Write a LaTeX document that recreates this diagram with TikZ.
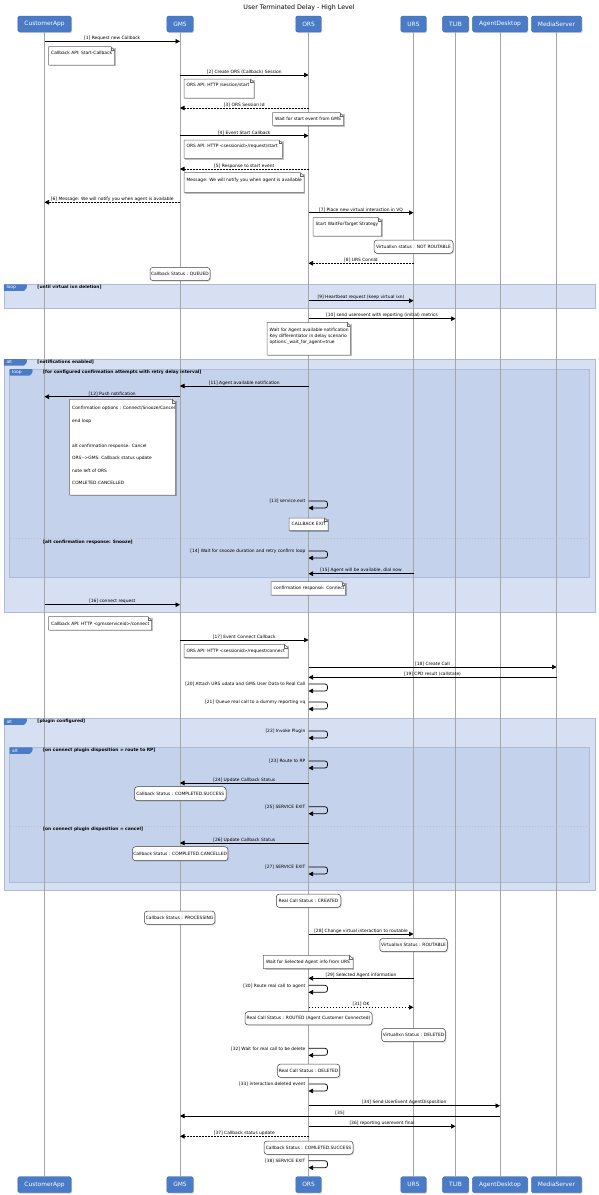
\documentclass[tikz,border=0pt]{standalone}
\usepackage{fontspec}
\setmainfont{DejaVu Sans}
\usetikzlibrary{arrows.meta,shadows}
\definecolor{partblue}{HTML}{4A7BC6}
\definecolor{partline}{HTML}{3C64A5}
\definecolor{outerfill}{HTML}{D7E0F2}
\definecolor{innerfill}{HTML}{C4D2EC}
\definecolor{frameline}{HTML}{AEBBD8}
\definecolor{lifegray}{HTML}{A6A6A6}
\newcommand\smallfont{\fontsize{4.4}{6.25}\selectfont}
\tikzset{
 part/.style={draw=partline, fill=partblue, text=white, rounded corners=1.5pt, minimum height=16pt, inner xsep=6.5pt, inner ysep=0pt, font=\fontsize{5.9}{7}\selectfont, drop shadow={shadow xshift=1pt, shadow yshift=-1pt, opacity=0.35}},
 lifeline/.style={draw=lifegray, line width=0.8pt},
 msgsolid/.style={line width=0.7pt, -{Triangle[length=4.5pt,width=4.5pt]}},
 msgdash/.style={msgsolid, dash pattern=on 1.8pt off 1.2pt},
 msglabel/.style={font=\smallfont, anchor=south, inner sep=0.6pt},
 selflabel/.style={font=\smallfont, anchor=east, inner sep=0pt},
 notebox/.style={draw=black!60, fill=white, line width=0.5pt},
 notetext/.style={font=\smallfont, anchor=north west, inner sep=0pt, align=left},
 shadowc/.style={fill=black, opacity=0.25},
 rbox/.style={draw=black!75, fill=white, rounded corners=3pt, line width=0.5pt, font=\smallfont, inner sep=0pt, drop shadow={shadow xshift=1pt, shadow yshift=-1pt, opacity=0.3}},
 grplabel/.style={font=\smallfont\bfseries, anchor=west, inner sep=0pt},
 tagtext/.style={font=\smallfont, text=white, anchor=west, inner sep=0pt},
 divline/.style={draw=black!25, dash pattern=on 1.5pt off 1.5pt, line width=0.5pt},
}
% name, x from, x to, y, style, label
\newcommand\seqmsg[6]{%
  \coordinate (#1a) at (#2,#4);
  \coordinate (#1b) at (#3,#4);
  \draw[#5] (#1a) -- node[msglabel] (#1l) {#6} (#1b);
}
% name, y top, label
\newcommand\seqself[3]{%
  \coordinate (#1a) at (\xORS,#2);
  \coordinate (#1b) at (\xORS,#2+7);
  \draw[msgsolid, rounded corners=2.5pt] (#1a) -- ++(19,0) -- ++(0,7) -- (#1b);
  \node[selflabel] (#1l) at (\xORS-3,#2+0.6) {#3};
}
% [text y offset] name, x1, y1, x2, y2, text
\newcommand\seqnote[7][4.3]{%
  \fill[shadowc] (#3+1.3,#4+1.3) rectangle (#5+1.3,#6+1.3);
  \filldraw[notebox] (#3,#4) -- (#5-3.5,#4) -- (#5,#4+3.5) -- (#5,#6) -- (#3,#6) -- cycle;
  \draw[notebox, fill=none] (#5-3.5,#4) -- (#5-3.5,#4+3.5) -- (#5,#4+3.5);
  \node[notetext] (#2) at (#3+2.5,#4+#1) {#7};
}
% name, cx, cy, w, h, text
\newcommand\seqrnote[6]{%
  \node[rbox, minimum width=#4pt, minimum height=#5pt] (#1) at (#2,#3) {#6};
}
% name, x1, y1, x2, y2, fill
\newcommand\grpframe[6]{%
  \filldraw[fill=#6, draw=frameline, line width=0.6pt] (#2,#3) rectangle (#4,#5);
  \coordinate (#1) at (#2,#3);
}
% name, x, y, tag, label
\newcommand\grptag[5]{%
  \fill[partblue, rounded corners=0.8pt] (#2,#3) -- (#2+23,#3) -- (#2+23,#3+3.5) -- (#2+20.5,#3+6.6) -- (#2,#3+6.6) -- cycle;
  \node[tagtext] (#1t) at (#2+2.5,#3+3.3) {#4};
  \node[grplabel] (#1l) at (#2+33.5,#3+3) {#5};
}
\def\xCA{44.5}
\def\xGMS{180}
\def\xORS{308.5}
\def\xURS{413.5}
\def\xTLIB{455.5}
\def\xAD{500}
\def\xMS{556.5}
\begin{document}
\begin{tikzpicture}[x=1pt,y=-1pt]
\useasboundingbox (0,0) rectangle (599,1195);
\fill[white] (0,0) rectangle (599,1195);
\node[font=\fontsize{6.3}{7}\selectfont, inner sep=0pt] (title) at (299,8) {User Terminated Delay - High Level};
% frames
\grpframe{fA}{3.8}{284.3}{595.4}{308.3}{outerfill}
\grpframe{fB}{3.8}{359}{595.4}{612.3}{outerfill}
\grpframe{fC}{9.5}{369}{589.7}{577.3}{innerfill}
\grpframe{fD}{3.8}{718.3}{595.4}{890}{outerfill}
\grpframe{fE}{9.5}{747.3}{589.7}{882.3}{innerfill}
\draw[divline] (9.5,538.3) -- (589.7,538.3);
\draw[divline] (9.5,826) -- (589.7,826);
% participants
\node[part] (caT) at (\xCA,24) {CustomerApp};
\node[part] (gmsT) at (\xGMS,24) {GMS};
\node[part] (orsT) at (\xORS,24) {ORS};
\node[part] (ursT) at (\xURS,24) {URS};
\node[part] (tlibT) at (\xTLIB,24) {TLIB};
\node[part] (adT) at (\xAD,24) {AgentDesktop};
\node[part] (msT) at (\xMS,24) {MediaServer};
\node[part] (caB) at (\xCA,1184.7) {CustomerApp};
\node[part] (gmsB) at (\xGMS,1184.7) {GMS};
\node[part] (orsB) at (\xORS,1184.7) {ORS};
\node[part] (ursB) at (\xURS,1184.7) {URS};
\node[part] (tlibB) at (\xTLIB,1184.7) {TLIB};
\node[part] (adB) at (\xAD,1184.7) {AgentDesktop};
\node[part] (msB) at (\xMS,1184.7) {MediaServer};
\foreach \p in {ca,gms,ors,urs,tlib,ad,ms}{\draw[lifeline] (\p T.south) -- (\p B.north);}
% group tags and labels
\grptag{tA}{3.8}{284.3}{loop}{[until virtual ixn deletion]}
\grptag{tB}{3.8}{359}{alt}{[notifications enabled]}
\grptag{tC}{9.5}{369}{loop}{[for configured confirmation attempts with retry delay interval]}
\grptag{tD}{3.8}{718.3}{alt}{[plugin configured]}
\grptag{tE}{9.5}{747.3}{alt}{[on connect plugin disposition = route to RP]}
\node[grplabel] (elseA) at (43,541.8) {[alt confirmation response: Snooze]};
\node[grplabel] (elseB) at (43,829.6) {[on connect plugin disposition = cancel]};
% messages
\seqmsg{m1}{\xCA}{\xGMS}{41.3}{msgsolid}{[1] Request new Callback}
\seqnote{n1}{48.5}{46.7}{114.5}{65}{Callback API: Start-Callback}
\seqmsg{m2}{\xGMS}{\xORS}{75}{msgsolid}{[2] Create ORS (Callback) Session}
\seqnote{n2}{184}{79}{254}{98}{ORS API: HTTP /session/start}
\seqmsg{m3}{\xORS}{\xGMS}{108}{msgdash}{[3] ORS Session Id}
\seqnote{n3}{272.5}{112.7}{343.5}{125.3}{Wait for start event from GMS}
\seqmsg{m4}{\xGMS}{\xORS}{135.7}{msgsolid}{[4] Event Start Callback}
\seqnote{n4}{184}{140}{282.4}{158.3}{ORS API: HTTP <sessionid>/request/start}
\seqmsg{m5}{\xORS}{\xGMS}{169}{msgdash}{[5] Response to start event}
\seqnote[4.8]{n5}{184}{172.7}{304}{192.3}{Message: We will notify you when agent is available}
\seqmsg{m6}{\xGMS}{\xCA}{202.3}{msgdash}{[6] Message: We will notify you when agent is available}
\seqmsg{m7}{\xORS}{\xURS}{212.7}{msgsolid}{[7] Place new virtual interaction in VQ}
\seqnote{n6}{313}{217.7}{381.7}{236}{Start WaitForTarget Strategy}
\seqrnote{r1}{413.5}{246.7}{79}{13.3}{VirtualIxn status : NOT ROUTABLE}
\seqmsg{m8}{\xURS}{\xORS}{263.3}{msgdash}{[8] URS ConnId}
\seqrnote{r2}{180}{274}{60}{13.3}{Callback Status : QUEUED}
\seqmsg{m9}{\xORS}{\xURS}{300.7}{msgsolid}{[9] Heartbeat request (keep virtual ixn)}
\seqmsg{m10}{\xORS}{\xTLIB}{318.7}{msgsolid}{[10] send userevent with reporting (initial) metrics}
\seqnote[5.4]{n7}{267}{322.3}{350.4}{355}{Wait for Agent available notification\\Key differentiator in delay scenario\\options \_wait\_for\_agent=true}
\seqmsg{m11}{\xORS}{\xGMS}{386}{msgsolid}{[11] Agent available notification}
\seqmsg{m12}{\xGMS}{\xCA}{396.7}{msgsolid}{[12] Push notification}
\seqnote[6.8]{n8}{69.5}{399.3}{175.6}{495}{Confirmation options : Connect/Snooze/Cancel\\[6.25pt]end loop\\[18.75pt]alt confirmation response: Cancel\\[6.25pt]ORS-\kern0pt-\kern0pt>GMS: Callback status update\\[6.25pt]note left of ORS\\[6.25pt]COMLETED.CANCELLED}
\seqself{m13}{501}{[13] service.exit}
\seqnote{n9}{289}{518}{328}{530.7}{CALLBACK EXIT}
\seqself{m14}{551}{[14] Wait for snooze duration and retry confirm loop}
\seqmsg{m15}{\xURS}{\xORS}{573.7}{msgsolid}{[15] Agent will be available, dial now}
\seqnote{n10}{271}{581.7}{345.4}{595}{confirmation response: Connect}
\seqmsg{m16}{\xCA}{\xGMS}{604.7}{msgsolid}{[16] connect request}
\seqnote[4.8]{n11}{48.5}{616.7}{151.5}{630}{Callback API: HTTP <gmsserviceid>/connect}
\seqmsg{m17}{\xGMS}{\xORS}{640}{msgsolid}{[17] Event Connect Callback}
\seqnote{n12}{184}{644.3}{288}{657.7}{ORS API: HTTP <sessionid>/request/connect}
\seqmsg{m18}{\xORS}{\xMS}{667}{msgsolid}{[18] Create Call}
\seqmsg{m19}{\xMS}{\xORS}{677.3}{msgsolid}{[19] CPD result (callstate)}
\seqself{m20}{684}{[20] Attach URS udata and GMS User Data to Real Call}
\seqself{m21}{702}{[21] Queue real call to a dummy reporting vq}
\seqself{m22}{731}{[22] Invoke Plugin}
\seqself{m23}{761}{[23] Route to RP}
\seqmsg{m24}{\xORS}{\xGMS}{783}{msgsolid}{[24] Update Callback Status}
\seqrnote{r3}{180.2}{793.7}{91.6}{14}{Callback Status : COMPLETED.SUCCESS}
\seqself{m25}{806.7}{[25] SERVICE EXIT}
\seqmsg{m26}{\xORS}{\xGMS}{843}{msgsolid}{[26] Update Callback Status}
\seqrnote{r4}{180.2}{853.7}{95.5}{14}{Callback Status : COMPLETED.CANCELLED}
\seqself{m27}{867}{[27] SERVICE EXIT}
\seqrnote{r5}{308.5}{900.7}{64.5}{13.3}{Real Call Status : CREATED}
\seqrnote{r6}{179.6}{917.7}{70.6}{13.3}{Callback Status : PROCESSING}
\seqmsg{m28}{\xORS}{\xURS}{934}{msgsolid}{[28] Change virtual interaction to routable}
\seqrnote{r7}{413.5}{945}{67.5}{13.3}{VirtualIxn Status : ROUTABLE}
\seqnote[4.8]{n13}{263.4}{955.3}{353}{968.7}{Wait for Selected Agent info from URS}
\seqmsg{m29}{\xURS}{\xORS}{978.3}{msgsolid}{[29] Selected Agent information}
\seqself{m30}{985.3}{[30] Route real call to agent}
\seqmsg{m31}{\xORS}{\xURS}{1007.3}{msgdash}{[31] OK}
\seqrnote{r8}{308.5}{1018.3}{127}{13.3}{Real Call Status : ROUTED (Agent Customer Connected)}
\seqrnote{r9}{413.5}{1035}{63.7}{13.3}{VirtualIxn Status : DELETED}
\seqself{m32}{1048.3}{[32] Wait for real call to be delete}
\seqrnote{r10}{308.6}{1070.7}{62.2}{13.3}{Real Call Status : DELETED}
\seqself{m33}{1084}{[33] interaction.deleted event}
\seqmsg{m34}{\xORS}{\xAD}{1105.7}{msgsolid}{[34] Send UserEvent AgentDisposition}
\seqmsg{m35}{\xAD}{\xGMS}{1116}{msgsolid}{[35]}
\seqmsg{m36}{\xORS}{\xTLIB}{1126.3}{msgsolid}{[36] reporting userevent final}
\seqmsg{m37}{\xORS}{\xGMS}{1136.3}{msgdash}{[37] Callback status update}
\seqrnote{r11}{308.5}{1147.7}{89}{13.3}{Callback Status : COMLETED.SUCCESS}
\seqself{m38}{1160.7}{[38] SERVICE EXIT}
\end{tikzpicture}
\end{document}
